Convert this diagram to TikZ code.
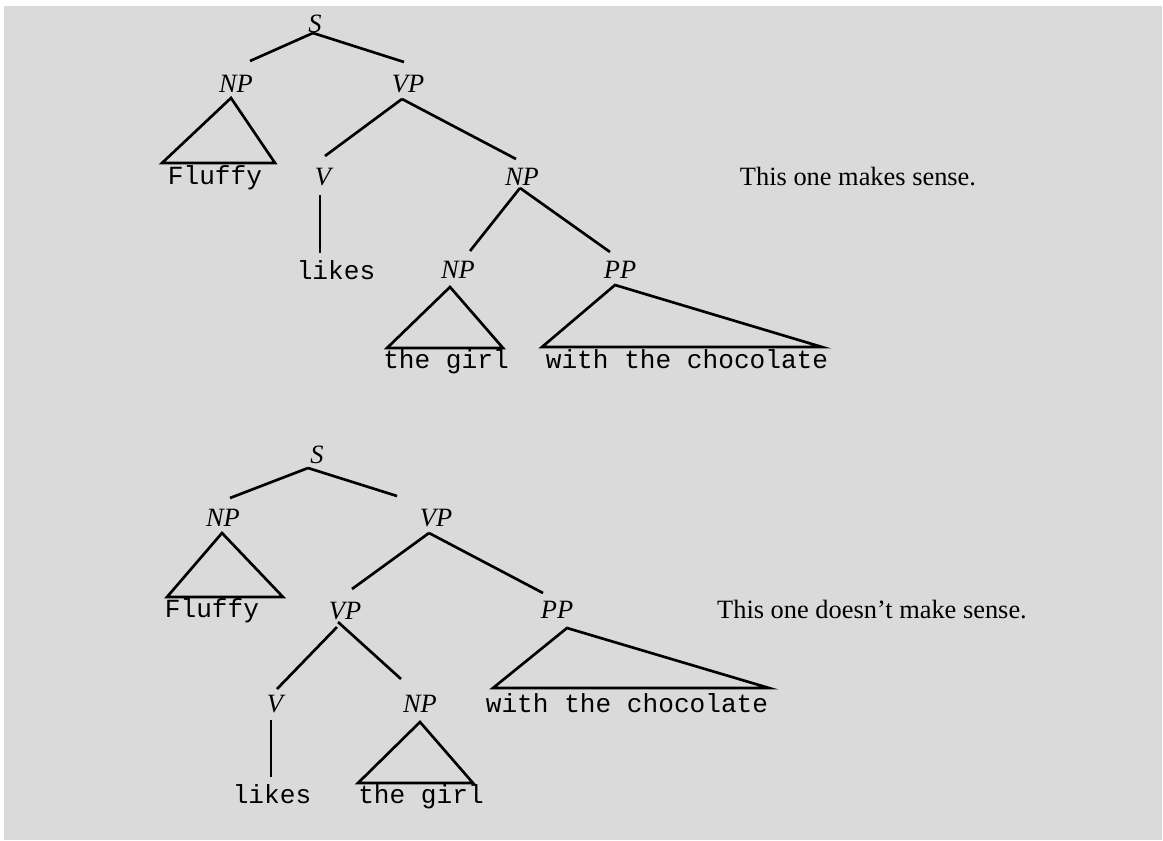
\documentclass[tikz,border=0pt]{standalone}
\usepackage{fontspec}
\setmainfont{Liberation Serif}
\setmonofont{Liberation Mono}
\usetikzlibrary{calc}
\definecolor{panel}{RGB}{218,218,218}

\begin{document}
\begin{tikzpicture}[x=0.75pt,y=-0.75pt,line width=2pt,
  every node/.style={inner sep=0pt,anchor=base},
  cat/.style={font=\fontsize{19.8}{24}\selectfont\itshape},
  word/.style={font=\fontsize{19.6}{24}\selectfont\ttfamily},
  remark/.style={font=\fontsize{19.8}{24}\selectfont}]
\useasboundingbox (0,0) rectangle (1163,840);
\fill[white] (0,0) rectangle (1163,840);
\fill[panel] (4,6) rectangle (1162,840);

% first tree: PP attached to the object NP
\node[cat] (t1s) at (315,32) {S};
\node[cat] (t1np) at (236,92) {NP};
\node[cat] (t1vp) at (408,92) {VP};
\node[word] (t1fluffy) at (215,184) {Fluffy};
\node[cat] (t1v) at (323,185) {V};
\node[cat] (t1np2) at (522,185) {NP};
\node[word] (t1likes) at (336,279) {likes};
\node[cat] (t1np3) at (458,278) {NP};
\node[cat] (t1pp) at (620,278) {PP};
\node[word] (t1girl) at (446,368) {the girl};
\node[word] (t1choc) at (687,368) {with the chocolate};
\node[remark] (t1note) at (858,185) {This one makes sense.};

\draw ($(t1s.base)+(-2,1)$) -- ($(t1np.base)+(14,-31)$);
\draw ($(t1s.base)+(-2,1)$) -- ($(t1vp.base)+(-4,-30)$);
\draw ($(t1np.base)+(-5,6)$) -- ($(t1fluffy.base)+(-53,-21)$)
  -- ($(t1fluffy.base)+(60,-21)$) -- cycle;
\draw ($(t1vp.base)+(-6,7)$) -- ($(t1v.base)+(2,-29)$);
\draw ($(t1vp.base)+(-6,7)$) -- ($(t1np2.base)+(-6,-26)$);
\draw ($(t1v.base)+(-3,10)$) -- ($(t1likes.base)+(-16,-26)$);
\draw ($(t1np2.base)+(-2,3)$) -- ($(t1np3.base)+(12,-27)$);
\draw ($(t1np2.base)+(-2,3)$) -- ($(t1pp.base)+(-10,-26)$);
\draw ($(t1np3.base)+(-8,9)$) -- ($(t1girl.base)+(-59,-20)$)
  -- ($(t1girl.base)+(57,-20)$) -- cycle;
\draw ($(t1pp.base)+(-5,7)$) -- ($(t1choc.base)+(-145,-21)$)
  -- ($(t1choc.base)+(135,-21)$) -- cycle;

% second tree: PP attached to the VP
\node[cat] (t2s) at (317,463) {S};
\node[cat] (t2np) at (223,526) {NP};
\node[cat] (t2vp) at (436,526) {VP};
\node[word] (t2fluffy) at (212,617) {Fluffy};
\node[cat] (t2vp2) at (345,619) {VP};
\node[cat] (t2pp) at (557,618) {PP};
\node[cat] (t2v) at (275,712) {V};
\node[cat] (t2np2) at (420,712) {NP};
\node[word] (t2choc) at (627,712) {with the chocolate};
\node[word] (t2likes) at (272,803) {likes};
\node[word] (t2girl) at (421,803) {the girl};
\node[remark] (t2note) at (872,618) {This one doesn't make sense.};

\draw ($(t2s.base)+(-9,5)$) -- ($(t2np.base)+(7,-28)$);
\draw ($(t2s.base)+(-9,5)$) -- ($(t2vp.base)+(-39,-30)$);
\draw ($(t2np.base)+(-1,7)$) -- ($(t2fluffy.base)+(-45,-20)$)
  -- ($(t2fluffy.base)+(71,-20)$) -- cycle;
\draw ($(t2vp.base)+(-7,7)$) -- ($(t2vp2.base)+(7,-30)$);
\draw ($(t2vp.base)+(-7,7)$) -- ($(t2pp.base)+(-14,-25)$);
\draw ($(t2vp2.base)+(-8,8)$) -- ($(t2v.base)+(2,-23)$);
\draw ($(t2vp2.base)+(-7,3)$) -- ($(t2np2.base)+(-19,-33)$);
\draw ($(t2v.base)+(-4,8)$) -- ($(t2likes.base)+(-1,-26)$);
\draw ($(t2np2.base)+(0,10)$) -- ($(t2girl.base)+(-63,-20)$)
  -- ($(t2girl.base)+(52,-20)$) -- cycle;
\draw ($(t2pp.base)+(10,10)$) -- ($(t2choc.base)+(-134,-24)$)
  -- ($(t2choc.base)+(142,-24)$) -- cycle;
\end{tikzpicture}
\end{document}
